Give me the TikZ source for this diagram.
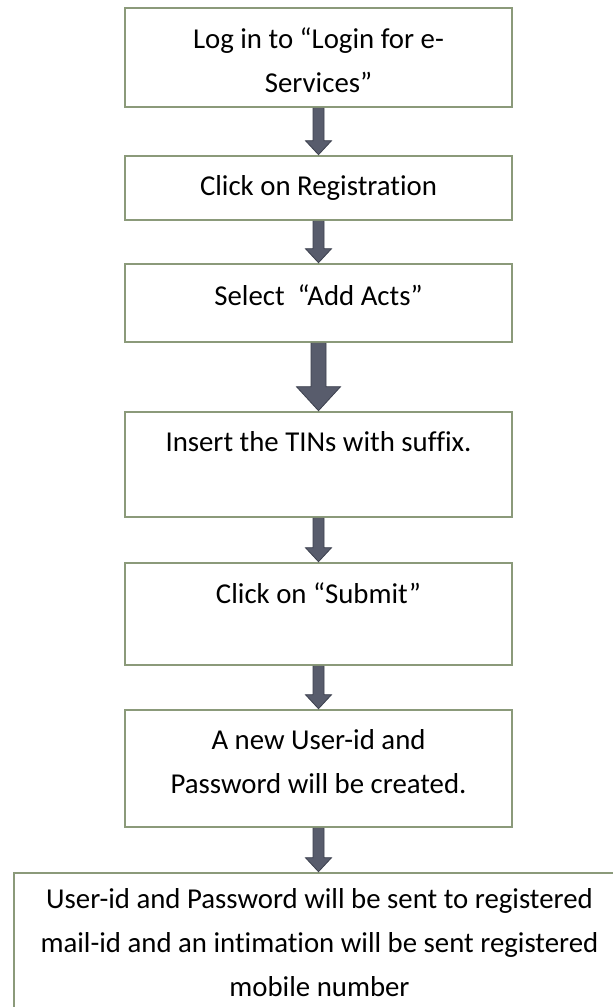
\documentclass[tikz,border=0pt]{standalone}
\usepackage{fontspec}
\setmainfont{Carlito}[Ligatures=CommonOff]
\usetikzlibrary{calc}

\definecolor{boxline}{RGB}{139,154,122}
\definecolor{arrfill}{RGB}{88,92,108}
\definecolor{arredge}{RGB}{60,64,78}

% block arrow from the bottom of box #1 to the top of box #2
% #3 shaft half-width, #4 head half-width, #5 head length
\newcommand{\flowarrow}[5]{%
  \filldraw[arrowbody]
    ($(#1.south)+(-#3,0)$)
    -- ($(#1.south |- #2.north)+(-#3,#5)$)
    -- ($(#1.south |- #2.north)+(-#4,#5)$)
    -- (#1.south |- #2.north)
    -- ($(#1.south |- #2.north)+(#4,#5)$)
    -- ($(#1.south |- #2.north)+(#3,#5)$)
    -- ($(#1.south)+(#3,0)$)
    -- cycle;}

\begin{document}
\begin{tikzpicture}[x=1pt,y=1pt,
  stepbox/.style={draw=boxline, line width=2.6pt, fill=white, rectangle,
                  inner sep=0pt},
  steptext/.style={anchor=north, align=center, inner sep=0pt,
                   font=\fontsize{28.8}{44}\selectfont},
  arrowbody/.style={fill=arrfill, draw=arredge, line width=0.8pt,
                    line join=miter}]

\useasboundingbox (0,0) rectangle (613,-1007);
\fill[white] (0,0) rectangle (613,-1007);
\clip (0,0) rectangle (613,-1007);

% boxes
\node[stepbox, minimum width=387pt, minimum height=99pt]  (b1) at (318.5,-57.5) {};
\node[stepbox, minimum width=387pt, minimum height=64pt]  (b2) at (318.5,-188) {};
\node[stepbox, minimum width=387pt, minimum height=78pt]  (b3) at (318.5,-303) {};
\node[stepbox, minimum width=387pt, minimum height=105pt] (b4) at (318.5,-464.5) {};
\node[stepbox, minimum width=387pt, minimum height=102pt] (b5) at (318.5,-614) {};
\node[stepbox, minimum width=387pt, minimum height=117pt] (b6) at (318.5,-768.5) {};
\node[stepbox, minimum width=611pt, minimum height=157pt] (b7) at (319.5,-951.5) {};

% texts
\node[steptext] (t1) at ([yshift=-21pt]b1.north) {Log in to “Login for e-\\Services”};
\node[steptext] (t2) at ([yshift=-21pt]b2.north) {Click on Registration};
\node[steptext] (t3) at ([yshift=-22pt]b3.north) {Select\ \ “Add Acts”};
\node[steptext] (t4) at ([yshift=-21pt]b4.north) {Insert the TINs with suffix.};
\node[steptext] (t5) at ([yshift=-21pt]b5.north) {Click on “Submit”};
\node[steptext] (t6) at ([yshift=-21pt]b6.north) {A new User-id and\\Password will be created.};
\node[steptext] (t7) at ([yshift=-17pt]b7.north) {User-id and Password will be sent to registered\\mail-id and an intimation will be sent registered\\mobile number};

% arrows
\flowarrow{b1}{b2}{5.5}{13}{14}
\flowarrow{b2}{b3}{5.5}{13}{14}
\flowarrow{b3}{b4}{7.5}{22}{24}
\flowarrow{b4}{b5}{5.5}{13}{14}
\flowarrow{b5}{b6}{5.5}{13}{14}
\flowarrow{b6}{b7}{5.5}{13}{14}
\end{tikzpicture}
\end{document}
